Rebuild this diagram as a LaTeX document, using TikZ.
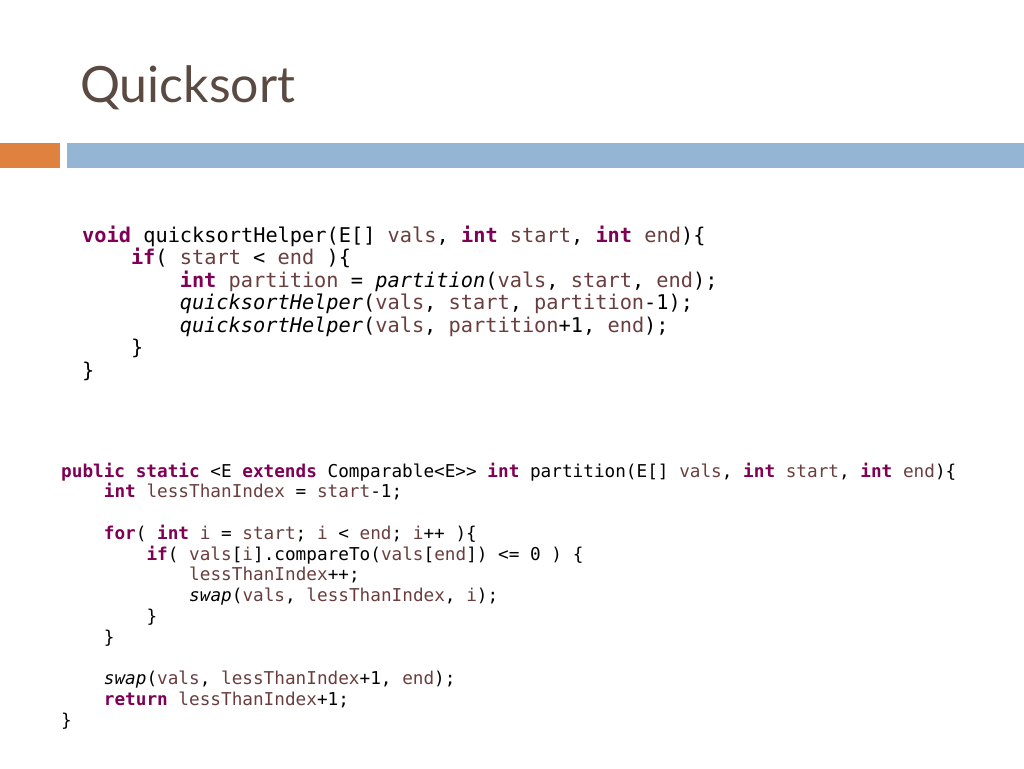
\documentclass[tikz,border=0pt]{standalone}
\usepackage{fontspec}
\setmonofont{DejaVu Sans Mono}
\newfontfamily\titlefont{Lato}
\definecolor{kwc}{HTML}{7F0055}
\definecolor{vrc}{HTML}{6A3E3E}
\definecolor{titlec}{HTML}{5A4A42}
\definecolor{orangebar}{HTML}{E0823F}
\definecolor{bluebar}{HTML}{94B6D4}
\newcommand{\kw}[1]{{\bfseries\color{kwc}#1}}
\newcommand{\vr}[1]{{\color{vrc}#1}}
\newcommand{\mt}[1]{{\itshape #1}}
\begin{document}
\begin{tikzpicture}[x=1pt,y=-1pt,
  codeA/.style={anchor=base west,inner sep=0pt,font=\ttfamily\fontsize{20.3}{22}\selectfont},
  codeB/.style={anchor=base west,inner sep=0pt,font=\ttfamily\fontsize{17.7}{20}\selectfont}]
\useasboundingbox[fill=white] (0,0) rectangle (1024,768);
\node[anchor=base west,inner sep=0pt,text=titlec,font=\titlefont\fontsize{50}{56}\selectfont] (title) at (80,102) {Quicksort};
\fill[orangebar] (0,143) rectangle (60,168);
\fill[bluebar] (67,143) rectangle (1024,168);
% block 1
\def\ca{12.2}
\node[codeA] (a1) at (82,242) {\kw{void} quicksortHelper(E[] \vr{vals}, \kw{int} \vr{start}, \kw{int} \vr{end})\{};
\node[codeA] (a2) at (82+4*\ca,264.5) {\kw{if}( \vr{start} < \vr{end} )\{};
\node[codeA] (a3) at (82+8*\ca,287) {\kw{int} \vr{partition} = \mt{partition}(\vr{vals}, \vr{start}, \vr{end});};
\node[codeA] (a4) at (82+8*\ca,309.5) {\mt{quicksortHelper}(\vr{vals}, \vr{start}, \vr{partition}-1);};
\node[codeA] (a5) at (82+8*\ca,332) {\mt{quicksortHelper}(\vr{vals}, \vr{partition}+1, \vr{end});};
\node[codeA] (a6) at (82+4*\ca,354.5) {\}};
\node[codeA] (a7) at (82,377) {\}};
% block 2
\def\cb{10.67}
\def\lb{20.75}
\node[codeB] (b1) at (61,477+0*\lb) {\kw{public} \kw{static} <E \kw{extends} Comparable<E>> \kw{int} partition(E[] \vr{vals}, \kw{int} \vr{start}, \kw{int} \vr{end})\{};
\node[codeB] (b2) at (61+4*\cb,477+1*\lb) {\kw{int} \vr{lessThanIndex} = \vr{start}-1;};
\node[codeB] (b3) at (61+4*\cb,477+3*\lb) {\kw{for}( \kw{int} \vr{i} = \vr{start}; \vr{i} < \vr{end}; \vr{i}++ )\{};
\node[codeB] (b4) at (61+8*\cb,477+4*\lb) {\kw{if}( \vr{vals}[\vr{i}].compareTo(\vr{vals}[\vr{end}]) <= 0 ) \{};
\node[codeB] (b5) at (61+12*\cb,477+5*\lb) {\vr{lessThanIndex}++;};
\node[codeB] (b6) at (61+12*\cb,477+6*\lb) {\mt{swap}(\vr{vals}, \vr{lessThanIndex}, \vr{i});};
\node[codeB] (b7) at (61+8*\cb,477+7*\lb) {\}};
\node[codeB] (b8) at (61+4*\cb,477+8*\lb) {\}};
\node[codeB] (b9) at (61+4*\cb,477+10*\lb) {\mt{swap}(\vr{vals}, \vr{lessThanIndex}+1, \vr{end});};
\node[codeB] (b10) at (61+4*\cb,477+11*\lb) {\kw{return} \vr{lessThanIndex}+1;};
\node[codeB] (b11) at (61,477+12*\lb) {\}};
\end{tikzpicture}
\end{document}
